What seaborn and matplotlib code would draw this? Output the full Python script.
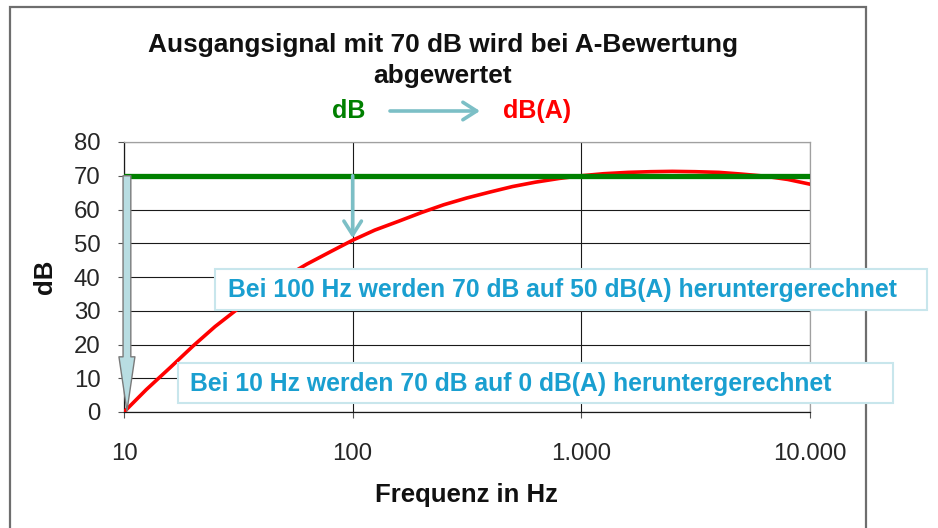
import pandas as pd
import seaborn as sns
import matplotlib.pyplot as plt
from matplotlib.patches import Rectangle
from matplotlib.ticker import FixedLocator, FixedFormatter, NullLocator

# data
freq_hz = [10, 12.5, 16, 20, 25, 31.5, 40, 50, 63, 80, 100, 125, 160, 200, 250,
           315, 400, 500, 630, 800, 1000, 1250, 1600, 2000, 2500, 3150, 4000,
           5000, 6300, 8000, 10000]
level_dba = [0, 6.6, 13.3, 19.5, 25.3, 30.6, 35.4, 39.8, 43.8, 47.5, 50.9, 53.9,
             56.6, 59.1, 61.4, 63.4, 65.2, 66.8, 68.1, 69.2, 70.0, 70.6, 71.0,
             71.2, 71.3, 71.2, 71.0, 70.5, 69.9, 68.9, 67.5]
level_db = [70] * len(freq_hz)
x_ticks = [10, 100, 1000, 10000]
x_tick_labels = ["10", "100", "1.000", "10.000"]
y_ticks = [0, 10, 20, 30, 40, 50, 60, 70, 80]

sns.set_style("white")
plt.rcParams["font.family"] = ["Liberation Sans", "DejaVu Sans"]

W, H = 938, 528
fig = plt.figure(figsize=(W / 100, H / 100), dpi=100)


def fx(px):
    return px / W


def fy(py):
    return 1 - py / H


ax = fig.add_axes([fx(124), fy(412), fx(810) - fx(124), fy(142) - fy(412)])

df = pd.DataFrame({"Hz": freq_hz, "dB": level_db, "dBA": level_dba})
sns.lineplot(data=df, x="Hz", y="dB", ax=ax, color="#008000", lw=3.8, zorder=4)
sns.lineplot(data=df, x="Hz", y="dBA", ax=ax, color="#ff0000", lw=2.6, zorder=3)

ax.set_xscale("log")
ax.set_xlim(10, 10000)
ax.set_ylim(0, 80)
ax.xaxis.set_major_locator(FixedLocator(x_ticks))
ax.xaxis.set_major_formatter(FixedFormatter(x_tick_labels))
ax.xaxis.set_minor_locator(NullLocator())
ax.set_yticks(y_ticks)
ax.grid(True, color="#1a1a1a", lw=0.8)
ax.tick_params(axis="both", direction="out", length=4.5, width=0.8, color="#555555",
               labelsize=17.3, bottom=True, left=True)
ax.tick_params(axis="x", pad=17.5)
ax.tick_params(axis="y", pad=12.5)
for side in ["top", "right"]:
    ax.spines[side].set_color("#a0a0a0")
for side in ["left", "bottom"]:
    ax.spines[side].set_color("#1a1a1a")
for sp in ax.spines.values():
    sp.set_linewidth(0.9)
ax.set_xlabel("")
ax.set_ylabel("")

# arrows inside the plot
ax.annotate("", xy=(10.3, 0.3), xytext=(10.3, 70),
            arrowprops=dict(arrowstyle="simple,head_length=39,head_width=11.5,tail_width=5.6",
                            mutation_scale=1, fc="#b8dde2", ec="#7a7a7a", lw=1,
                            shrinkA=0, shrinkB=0), zorder=5)
ax.annotate("", xy=(100, 51.5), xytext=(100, 70),
            arrowprops=dict(arrowstyle="->,head_length=0.55,head_width=0.35",
                            mutation_scale=18, color="#7cbfc6", lw=2.6,
                            shrinkA=0, shrinkB=0), zorder=5)

# outer frame
fig.patches.append(Rectangle((fx(10), fy(600)), fx(866) - fx(10), fy(7) - fy(600),
                             transform=fig.transFigure, fill=False, ec="#6e6e6e", lw=1.6))

# titles
fig.text(fx(443), fy(45), "Ausgangsignal mit 70 dB wird bei A-Bewertung", ha="center",
         va="center", fontsize=18.9, fontweight="bold", color="#111111")
fig.text(fx(443), fy(76), "abgewertet", ha="center", va="center", fontsize=18.9,
         fontweight="bold", color="#111111")
fig.text(fx(349), fy(111), "dB", ha="center", va="center", fontsize=18,
         fontweight="bold", color="#008000")
fig.text(fx(537), fy(111), "dB(A)", ha="center", va="center", fontsize=18,
         fontweight="bold", color="#ff0000")
ax.annotate("", xy=(fx(480), fy(111)), xytext=(fx(390), fy(111)),
            xycoords="figure fraction", textcoords="figure fraction",
            arrowprops=dict(arrowstyle="->,head_length=0.55,head_width=0.35",
                            mutation_scale=18, color="#7cbfc6", lw=2.6,
                            shrinkA=0, shrinkB=0), annotation_clip=False)

# axis labels
fig.text(fx(466), fy(495), "Frequenz in Hz", ha="center", va="center", fontsize=18.5,
         fontweight="bold", color="#111111")
fig.text(fx(45), fy(277), "dB", ha="center", va="center", fontsize=18.5,
         fontweight="bold", rotation=90, color="#111111")

# annotation boxes
boxes = [
    ((215, 269, 927, 310), 228, "Bei 100 Hz werden 70 dB auf 50 dB(A) heruntergerechnet"),
    ((178, 363, 893, 403), 190, "Bei 10 Hz werden 70 dB auf 0 dB(A) heruntergerechnet"),
]
for (x0, y0, x1, y1), tx, label in boxes:
    fig.patches.append(Rectangle((fx(x0), fy(y1)), fx(x1) - fx(x0), fy(y0) - fy(y1),
                                 transform=fig.transFigure, fc="white", ec="#c8e6ec",
                                 lw=1.5, zorder=6))
    fig.text(fx(tx), fy((y0 + y1) / 2 + 1), label, ha="left", va="center", fontsize=17.8,
             fontweight="bold", color="#1a9fd0", zorder=7)

fig.savefig("out.png", dpi=100)
